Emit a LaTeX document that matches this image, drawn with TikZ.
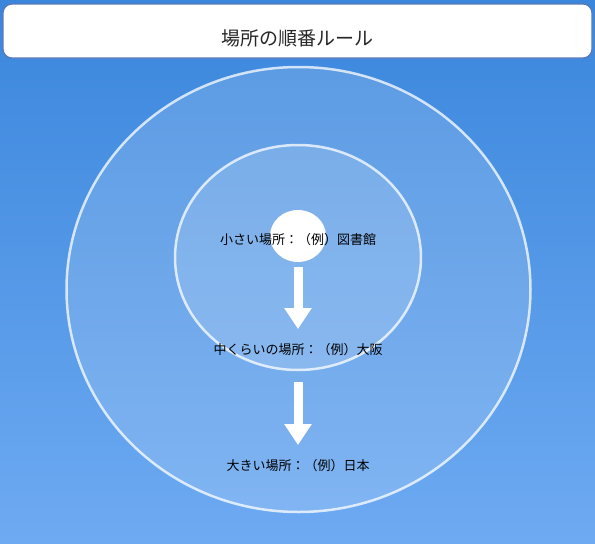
\documentclass[tikz,border=0pt]{standalone}
\usepackage{fontspec}
\setmainfont{Noto Sans CJK JP}
\usetikzlibrary{arrows.meta,shapes.geometric}
\definecolor{bgtop}{RGB}{58,134,220}
\definecolor{bgbot}{RGB}{110,170,242}
\definecolor{titleline}{RGB}{88,120,185}

\begin{document}
\begin{tikzpicture}[x=1pt,y=-1pt]
\tikzstyle{every node}+=[inner sep=0pt]
\tikzstyle{ring}=[draw=white,draw opacity=0.75,line width=2.5pt,fill=white,fill opacity=0.15]
\tikzstyle{titlebox}=[draw=titleline,line width=1.2pt,fill=white,rounded corners=9pt,minimum width=589pt,minimum height=54pt]
\tikzstyle{place}=[font=\fontsize{13}{15}\selectfont,text=black]
\tikzstyle{down}=[draw=white,line width=9pt,-{Triangle[width=26pt,length=21pt]}]
\useasboundingbox (0,0) rectangle (595,544);
\shade [top color=bgtop,bottom color=bgbot] (0,0) rectangle (595,544);
\node (title) [titlebox] at (297.5,31) {};
\node (titletext) [font=\fontsize{19}{22}\selectfont,text=black!85] at ([yshift=-7pt]title.center) {場所の順番ルール};
\draw [ring] (298.5,289.5) ellipse [x radius=232pt,y radius=222.5pt];
\draw [ring] (298,257.5) ellipse [x radius=123pt,y radius=112.5pt];
\node (dot) [ellipse,fill=white,minimum width=56pt,minimum height=52pt] at (298,236) {};
\node (small) [place] at (298,240) {小さい場所：（例）図書館};
\node (mid) [place] at (298,350) {中くらいの場所：（例）大阪};
\node (large) [place] at (298,466) {大きい場所：（例）日本};
\draw [down] ([yshift=-5pt]dot.south) -- ([yshift=14.5pt]mid.north);
\draw [down] ([yshift=-25.5pt]mid.south) -- ([yshift=14.5pt]large.north);
\end{tikzpicture}
\end{document}
